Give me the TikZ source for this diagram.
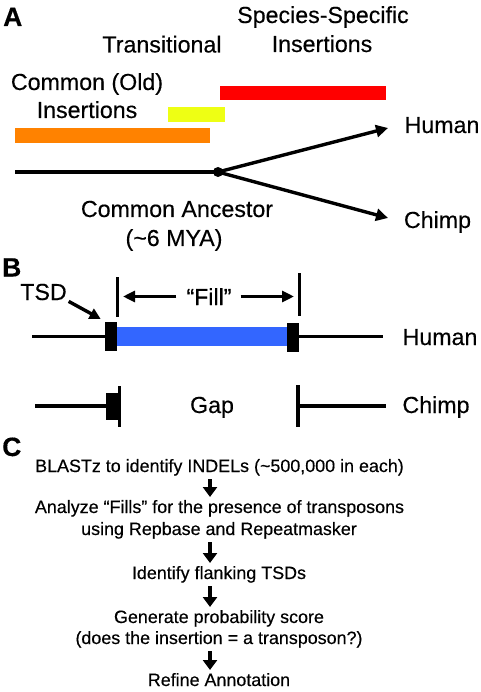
\documentclass[tikz,border=0pt]{standalone}
\usepackage{fontspec}
\setmainfont{Liberation Sans}[FakeBold=0.35]
\usetikzlibrary{arrows.meta}
\definecolor{orangebar}{RGB}{255,130,0}
\definecolor{yellowbar}{RGB}{238,255,20}
\definecolor{redbar}{RGB}{255,0,0}
\definecolor{blueins}{RGB}{51,102,255}
\begin{document}
\begin{tikzpicture}[x=1pt,y=-1pt,
  lbl/.style={font=\fontsize{23.2}{26}\selectfont, inner sep=0pt, anchor=base},
  plabel/.style={font=\fontsize{26.5}{30}\selectfont\bfseries, inner sep=0pt, anchor=base west},
  stepbox/.style={font=\fontsize{17.9}{21.5}\selectfont, inner sep=0pt, anchor=base},
  thickline/.style={line width=3.4pt},
  arrA/.style={line width=3.4pt, -{Triangle[length=12pt,width=12pt]}},
  arrC/.style={line width=4pt, -{Triangle[length=10pt,width=14pt]}, shorten <=7pt, shorten >=16pt},
  blk/.style={fill=black, inner sep=0pt, minimum width=11.5pt}
]
\useasboundingbox (0,0) rectangle (480,692);

% ---------------- Panel A ----------------
\node[plabel] (pA) at (3,26) {A};
\node[lbl] (ss1) at (323,23) {Species-Specific};
\node[lbl] (ss2) at (322,52) {Insertions};
\node[lbl] (tr) at (162,52.5) {Transitional};
\node[lbl] (co1) at (87,90) {Common (Old)};
\node[lbl] (co2) at (87,118) {Insertions};

\fill[redbar] (220,86) rectangle (386,100);
\fill[yellowbar] (168,107) rectangle (225,122);
\fill[orangebar] (15,128) rectangle (210,143);

\coordinate (st) at (15,172);
\node[circle, fill=black, inner sep=0pt, minimum size=10pt] (anc) at (218,172) {};
\coordinate (hA) at (388,128);
\coordinate (cA) at (388,218);
\draw[thickline] (st) -- (anc.center);
\draw[arrA] (anc.center) -- (hA);
\draw[arrA] (anc.center) -- (cA);
\node[lbl] (humA) at (442,133) {Human};
\node[lbl] (chA) at (437.5,228) {Chimp};
\node[lbl] (ca1) at (177,217) {Common Ancestor};
\node[lbl] (ca2) at (174,246) {(\textasciitilde6 MYA)};

% ---------------- Panel B ----------------
\node[plabel] (pB) at (2,276.5) {B};
\node[lbl] (tsd) at (43.5,300) {TSD};
\node[lbl] (fill) at (209,305) {“Fill”};

% human row
\coordinate (hl) at (32,336.5);
\coordinate (hr) at (383,336.5);
\node[blk, minimum height=29pt] (lblk) at (111,336) {};
\node[blk, minimum height=29pt] (rblk) at (293,337.5) {};
\fill[blueins] (lblk.east |- 0,327) rectangle (rblk.west |- 0,346);
\draw[thickline] (hl) -- (lblk.west |- hl);
\draw[thickline] (rblk.east |- hr) -- (hr);
\node[lbl] (humB) at (440,345) {Human};

% ticks
\coordinate (lt1) at (117.5,277);
\coordinate (lt2) at (117.5,317);
\coordinate (rt1) at (299.5,273);
\coordinate (rt2) at (299.5,316);
\draw[thickline] (lt1) -- (lt2);
\draw[thickline] (rt1) -- (rt2);
\coordinate (lf) at (123,296.5);
\coordinate (rf) at (294,296.5);
\draw[line width=3.4pt, -{Triangle[length=12pt,width=11pt]}, shorten <=10pt] (fill.west |- lf) -- (lf);
\draw[line width=3.4pt, -{Triangle[length=12pt,width=11pt]}, shorten <=9pt] (fill.east |- rf) -- (rf);

% TSD arrow
\draw[line width=3.4pt, -{Triangle[length=11pt,width=11pt]}, shorten <=2pt, shorten >=5pt] (tsd.south east) -- (lblk.north west);

% chimp row
\coordinate (cl) at (35,406);
\coordinate (cr) at (386,406);
\node[blk, minimum height=27pt] (cblk) at (111.75,406.5) {};
\draw[thickline] (cl) -- (cblk.west |- cl);
\coordinate (ct1) at (119.5,386);
\coordinate (ct2) at (119.5,427);
\draw[thickline] (ct1) -- (ct2);
\coordinate (crt1) at (298,385);
\coordinate (crt2) at (298,427);
\draw[thickline] (crt1) -- (crt2);
\draw[thickline] (crt1 |- cr) -- (cr);
\node[lbl] (gap) at (212,413) {Gap};
\node[lbl] (chB) at (436,413) {Chimp};

% ---------------- Panel C ----------------
\node[plabel] (pC) at (2,456) {C};
\coordinate (ax) at (210,0);
\node[stepbox] (s1) at (219.5,472) {BLASTz to identify INDELs (\textasciitilde500,000 in each)};
\node[stepbox] (s2) at (219.5,513) {Analyze “Fills” for the presence of transposons};
\node[stepbox] (s2b) at (219,535) {using Repbase and Repeatmasker};
\node[stepbox] (s3) at (219,579) {Identify flanking TSDs};
\node[stepbox] (s4) at (219,623) {Generate probability score};
\node[stepbox] (s4b) at (219,644) {(does the insertion = a transposon?)};
\node[stepbox] (s5) at (219,686) {Refine Annotation};

\draw[arrC] (s1.base -| ax) -- (s2.base -| ax);
\draw[arrC] (s2b.base -| ax) -- (s3.base -| ax);
\draw[arrC] (s3.base -| ax) -- (s4.base -| ax);
\draw[arrC] (s4b.base -| ax) -- (s5.base -| ax);
\end{tikzpicture}
\end{document}
